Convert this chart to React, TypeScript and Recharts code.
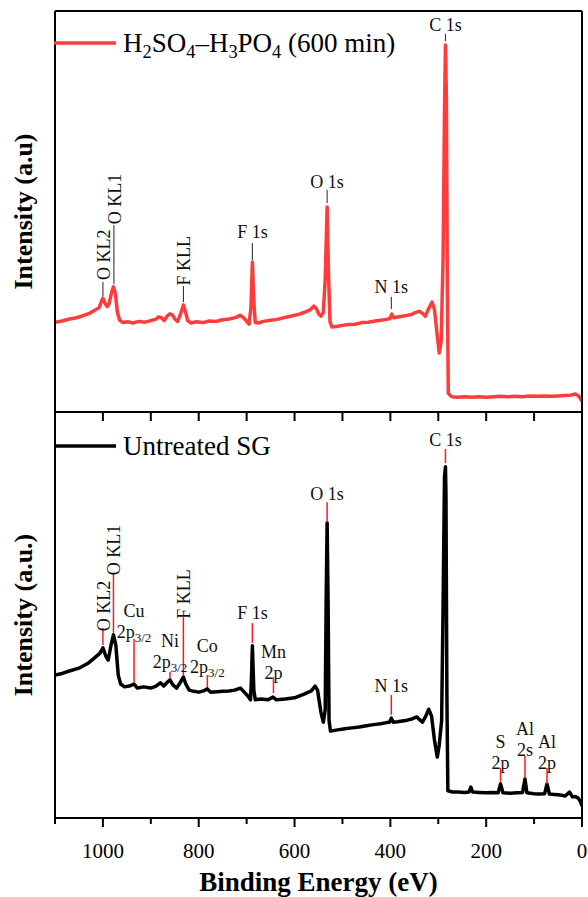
import React from 'react';
import { LineChart, Line, XAxis, YAxis, ReferenceLine, ReferenceDot, Legend, Label } from 'recharts';

const FONT = "'Liberation Serif', 'Times New Roman', serif";
const RED = '#ff3b3b';
const AXIS = { stroke: '#000', strokeWidth: 2 };

// ---- H2SO4–H3PO4 (600 min) survey: binding energy (eV) and intensity (a.u.)
const treatedEnergy = [
  1100, 1085, 1070, 1055, 1040, 1028, 1018, 1008, 1003, 1000,
  996, 991, 987, 982, 978, 974, 970, 965, 958, 948,
  938, 925, 912, 900, 890, 884, 878, 872, 866, 860,
  855, 850, 844, 838, 832, 828, 823, 816, 805, 792,
  778, 764, 750, 736, 722, 714, 708, 701, 695, 691,
  688, 685, 682, 676, 665, 650, 636, 620, 604, 590,
  576, 566, 560, 555, 549, 545, 540, 536, 532, 529,
  526, 522, 512, 500, 488, 474, 460, 446, 432, 420,
  408, 401, 397, 393, 385, 375, 365, 356, 348, 340,
  333, 327, 320, 313, 308, 303, 298, 294, 290, 287,
  285, 283, 281, 279, 272, 260, 245, 230, 215, 200,
  185, 170, 155, 140, 125, 110, 95, 80, 65, 50,
  36, 24, 14, 7, 3, 0,
];
const treatedIntensity = [
  22.4, 22.7, 23.2, 23.5, 24.1, 24.6, 25.3, 26.0, 27.6, 28.4,
  27.2, 26.3, 27.0, 29.8, 31.2, 29.6, 25.0, 22.9, 22.3, 22.5,
  22.2, 22.6, 22.4, 22.8, 23.1, 23.7, 23.5, 22.8, 23.9, 24.5,
  24.2, 23.2, 22.6, 24.4, 26.7, 25.2, 22.8, 22.2, 22.5, 22.3,
  22.7, 22.6, 23.0, 23.2, 23.6, 24.1, 23.7, 22.8, 21.9, 26.0,
  37.4, 27.5, 22.3, 22.2, 22.6, 22.9, 23.1, 23.6, 24.0, 24.4,
  25.0, 25.6, 26.4, 25.9, 24.4, 23.9, 24.8, 33.0, 51.1, 34.0,
  22.6, 21.2, 21.3, 21.6, 21.8, 21.9, 22.3, 22.4, 22.7, 22.9,
  23.1, 23.3, 24.4, 23.5, 23.7, 23.9, 24.1, 24.3, 24.8, 25.1,
  24.6, 23.9, 25.8, 27.4, 25.6, 20.0, 14.7, 17.5, 38.0, 75.0,
  91.5, 78.0, 30.0, 4.6, 3.8, 3.7, 3.8, 3.7, 3.8, 3.7,
  3.8, 3.9, 3.8, 3.9, 3.8, 4.0, 3.9, 4.0, 3.9, 4.0,
  4.1, 4.2, 4.5, 4.0, 3.3, 2.7,
];

// ---- Untreated SG survey
const untreatedEnergy = [
  1100, 1085, 1070, 1050, 1030, 1015, 1006, 1000, 994, 989,
  983, 978, 973, 968, 963, 955, 945, 935, 928, 915,
  900, 890, 880, 873, 865, 860, 854, 846, 838, 832,
  827, 820, 810, 800, 790, 782, 775, 762, 750, 737,
  725, 713, 705, 697, 692, 690, 688, 685, 682, 670,
  655, 645, 638, 620, 600, 580, 565, 557, 552, 545,
  540, 536, 534, 532, 530, 528, 525, 510, 495, 480,
  465, 450, 435, 420, 408, 402, 398, 394, 385, 375,
  365, 355, 345, 333, 326, 320, 314, 308, 302, 298,
  293, 290, 287, 285, 284, 282, 280, 270, 258, 245,
  236, 232, 228, 215, 200, 188, 175, 170, 165, 150,
  135, 124, 119, 115, 100, 90, 78, 73, 68, 58,
  50, 42, 35, 26, 20, 14, 8, 4, 0,
];
const untreatedIntensity = [
  35.2, 35.6, 36.2, 36.9, 38.2, 39.7, 40.6, 41.9, 39.9, 38.9,
  42.6, 45.1, 42.6, 35.2, 33.0, 32.3, 32.5, 33.0, 32.0, 32.3,
  32.0, 32.4, 33.3, 32.5, 33.5, 34.0, 32.8, 32.0, 33.5, 34.7,
  33.0, 31.5, 31.2, 31.0, 31.3, 31.8, 31.0, 31.1, 31.2, 31.3,
  31.5, 32.0, 31.0, 30.0, 29.1, 34.0, 42.4, 31.5, 29.1, 29.3,
  29.1, 29.8, 29.1, 29.3, 29.6, 30.5, 31.3, 32.5, 31.5, 26.1,
  23.6, 26.6, 53.7, 72.7, 53.7, 24.1, 21.4, 21.7, 22.0, 22.2,
  22.4, 22.7, 23.0, 23.2, 23.5, 23.6, 24.6, 23.6, 23.7, 23.9,
  24.1, 24.4, 24.9, 23.6, 25.1, 26.8, 25.1, 19.2, 15.0, 18.0,
  24.0, 52.0, 84.0, 86.5, 80.0, 30.0, 6.7, 6.4, 6.4, 6.3,
  6.4, 7.6, 6.4, 6.3, 6.2, 6.3, 6.2, 8.4, 6.2, 6.1,
  6.2, 6.3, 9.6, 6.2, 6.0, 5.9, 6.0, 8.4, 5.9, 5.8,
  5.7, 5.6, 5.4, 6.4, 5.2, 5.3, 4.9, 4.2, 3.0,
];

// ---- axis ticks
const xTicks = [1100, 1000, 900, 800, 700, 600, 500, 400, 300, 200, 100, 0];
const xInnerTicks = [1000, 900, 800, 700, 600, 500, 400, 300, 200, 100];
const Y_TOP = 100;

// ---- peak annotations: energy, connector from/to and text position (intensity units)
type Peak = { text: string; line2?: string; sub?: string; e: number; from: number; to: number; at: number; vertical?: boolean };

const treatedPeaks: Peak[] = [
  { text: 'O KL2', e: 1000, from: 28.9, to: 32.4, at: 39.2, vertical: true },
  { text: 'O KL1', e: 977, from: 31.9, to: 46.6, at: 53.1, vertical: true },
  { text: 'F KLL', e: 832, from: 27.4, to: 31.4, at: 37.7, vertical: true },
  { text: 'F 1s', e: 688, from: 37.9, to: 42.1, at: 44.9 },
  { text: 'O 1s', e: 532, from: 52.1, to: 55.4, at: 57.4 },
  { text: 'N 1s', e: 398, from: 25.7, to: 28.7, at: 31.2 },
  { text: 'C 1s', e: 285, from: 92.5, to: 94.3, at: 96.5 },
];

const untreatedPeaks: Peak[] = [
  { text: 'O KL2', e: 1000, from: 42.6, to: 46.8, at: 52.2, vertical: true },
  { text: 'O KL1', e: 978, from: 45.6, to: 60.3, at: 66.0, vertical: true },
  { text: 'Cu', line2: '2p', sub: '3/2', e: 935, from: 33.3, to: 44.1, at: 51.0 },
  { text: 'Ni', line2: '2p', sub: '3/2', e: 860, from: 34.5, to: 36.0, at: 43.6 },
  { text: 'F KLL', e: 832, from: 35.2, to: 49.5, at: 55.2, vertical: true },
  { text: 'Co', line2: '2p', sub: '3/2', e: 782, from: 32.3, to: 35.2, at: 42.4 },
  { text: 'F 1s', e: 688, from: 43.1, to: 48.0, at: 50.5 },
  { text: 'Mn', line2: '2p', e: 644, from: 30.8, to: 34.7, at: 40.9 },
  { text: 'O 1s', e: 532, from: 72.9, to: 77.8, at: 79.8 },
  { text: 'N 1s', e: 398, from: 25.4, to: 30.3, at: 32.5 },
  { text: 'C 1s', e: 285, from: 87.4, to: 90.9, at: 93.1 },
  { text: 'S', line2: '2p', e: 170, from: 8.9, to: 12.3, at: 18.8 },
  { text: 'Al', line2: '2s', e: 119, from: 9.9, to: 15.3, at: 22.0 },
  { text: 'Al', line2: '2p', e: 73, from: 8.4, to: 12.3, at: 18.8 },
];

const treatedData = treatedEnergy.map((e, i) => ({ e, v: treatedIntensity[i] }));
const untreatedData = untreatedEnergy.map((e, i) => ({ e, v: untreatedIntensity[i] }));

const PeakText = ({ cx, cy, peak }: { cx: number; cy: number; peak: Peak }) => {
  const common = { fontFamily: FONT, fontSize: 18, fill: '#111', textAnchor: 'middle' as const, dominantBaseline: 'central' as const };
  if (peak.vertical) {
    return (
      <text x={cx + 1} y={cy} transform={`rotate(-90 ${cx + 1} ${cy})`} {...common}>
        {peak.text}
      </text>
    );
  }
  return (
    <g>
      <text x={cx} y={cy} {...common}>{peak.text}</text>
      {peak.line2 && (
        <text x={cx} y={cy + 21} {...common}>
          {peak.line2}
          {peak.sub && <tspan fontSize={13} dy={5}>{peak.sub}</tspan>}
        </text>
      )}
    </g>
  );
};

const renderPeaks = (peaks: Peak[], lineColor: string, lineWidth: number) =>
  peaks.flatMap((p, i) => [
    <ReferenceLine
      key={`l${i}`}
      segment={[{ x: p.e, y: p.from }, { x: p.e, y: p.to }]}
      stroke={lineColor}
      strokeWidth={lineWidth}
      ifOverflow="visible"
    />,
    <ReferenceDot
      key={`t${i}`}
      x={p.e}
      y={p.at}
      r={0}
      ifOverflow="visible"
      shape={(props: any) => <PeakText cx={props.cx} cy={props.cy} peak={p} />}
    />,
  ]);

const YTitle = (text: string) => (props: any) => {
  const vb = props.viewBox || { x: 0, y: 0, width: 55, height: 400 };
  const cx = vb.x + 32;
  const cy = vb.y + vb.height / 2;
  return (
    <text x={cx} y={cy} transform={`rotate(-90 ${cx} ${cy})`} textAnchor="middle" fontFamily={FONT} fontSize={26} fontWeight="bold" fill="#000">
      {text}
    </text>
  );
};

const XTitle = (props: any) => {
  const vb = props.viewBox || { x: 55, y: 406, width: 527, height: 79 };
  return (
    <text x={vb.x + vb.width / 2} y={vb.y + 64} textAnchor="middle" dominantBaseline="central" fontFamily={FONT} fontSize={27} fontWeight="bold" fill="#000">
      Binding Energy (eV)
    </text>
  );
};

const BottomTick = (props: any) => {
  const { x, y, payload } = props;
  const v = payload.value;
  const major = v % 200 === 0;
  return (
    <g>
      <line x1={x} x2={x} y1={y} y2={y + (major ? 9 : 6)} stroke="#000" strokeWidth={2} />
      {major && (
        <text x={x} y={y + 33} textAnchor="middle" dominantBaseline="central" fontFamily={FONT} fontSize={21} fill="#000">
          {v}
        </text>
      )}
    </g>
  );
};

// tick mark hanging down from the top frame of the lower panel
const InnerTickMark = (props: any) => (
  <path d={`M${props.cx},${props.cy}v9`} stroke="#000" strokeWidth={2} fill="none" />
);

const subStyle: React.CSSProperties = { fontSize: '0.68em', lineHeight: 0, verticalAlign: '-0.3em' };

const LegendBox = ({ color, children }: { color: string; children: React.ReactNode }) => (
  <div style={{ display: 'flex', alignItems: 'center', height: 32, fontFamily: FONT, fontSize: 27, color: '#000', whiteSpace: 'nowrap', lineHeight: '32px' }}>
    <svg width={62} height={6} style={{ marginRight: 7, display: 'block' }}>
      <line x1={0} x2={62} y1={3} y2={3} stroke={color} strokeWidth={3.5} />
    </svg>
    <span>{children}</span>
  </div>
);

export default function App() {
  return (
    <div style={{ position: 'absolute', left: 0, top: 0, width: 588, height: 897, background: '#fff' }}>
      <div style={{ position: 'absolute', left: 0, top: 0 }}>
        <LineChart width={588} height={413} data={treatedData} margin={{ top: 10, right: 5, bottom: 0, left: 0 }}>
          <XAxis dataKey="e" type="number" domain={[0, 1100]} reversed tick={false} tickLine={false} axisLine={AXIS} height={1} allowDataOverflow />
          <XAxis xAxisId="top" orientation="top" type="number" domain={[0, 1100]} reversed tick={false} tickLine={false} axisLine={AXIS} height={1} />
          <YAxis type="number" domain={[0, 100]} tick={false} tickLine={false} axisLine={AXIS} width={55} allowDataOverflow>
            <Label content={YTitle('Intensity (a.u)')} />
          </YAxis>
          <YAxis yAxisId="right" orientation="right" type="number" domain={[0, 100]} tick={false} tickLine={false} axisLine={AXIS} width={1} />
          <Line dataKey="v" stroke={RED} strokeWidth={3.5} dot={false} isAnimationActive={false} strokeLinejoin="round" />
          {renderPeaks(treatedPeaks, '#222', 1)}
          <Legend
            layout="vertical"
            align="center"
            verticalAlign="middle"
            wrapperStyle={{ left: 54, top: 27, width: 460 }}
            content={() => (
              <LegendBox color={RED}>
                H<sub style={subStyle}>2</sub>SO<sub style={subStyle}>4</sub>–H<sub style={subStyle}>3</sub>PO<sub style={subStyle}>4</sub> (600 min)
              </LegendBox>
            )}
          />
        </LineChart>
      </div>
      <div style={{ position: 'absolute', left: 0, top: 411 }}>
        <LineChart width={588} height={486} data={untreatedData} margin={{ top: 0, right: 5, bottom: 0, left: 0 }}>
          <XAxis dataKey="e" type="number" domain={[0, 1100]} reversed ticks={xTicks} interval={0} tickSize={0} tickMargin={0} tickLine={false} tick={BottomTick} axisLine={AXIS} height={79} allowDataOverflow>
            <Label content={XTitle} />
          </XAxis>
          <XAxis xAxisId="top" orientation="top" type="number" domain={[0, 1100]} reversed tick={false} tickLine={false} axisLine={AXIS} height={1} />
          <YAxis type="number" domain={[0, 100]} tick={false} tickLine={false} axisLine={AXIS} width={55} allowDataOverflow>
            <Label content={YTitle('Intensity (a.u.)')} />
          </YAxis>
          <YAxis yAxisId="right" orientation="right" type="number" domain={[0, 100]} tick={false} tickLine={false} axisLine={AXIS} width={1} />
          <Line dataKey="v" stroke="#000" strokeWidth={3.5} dot={false} isAnimationActive={false} strokeLinejoin="round" />
          {renderPeaks(untreatedPeaks, '#ff1a1a', 1.5)}
          {xInnerTicks.map((t) => (
            <ReferenceDot key={`it${t}`} x={t} y={Y_TOP} r={0} ifOverflow="visible" shape={InnerTickMark} />
          ))}
          <Legend
            layout="vertical"
            align="center"
            verticalAlign="middle"
            wrapperStyle={{ left: 54, top: 19, width: 300 }}
            content={() => <LegendBox color="#000">Untreated SG</LegendBox>}
          />
        </LineChart>
      </div>
    </div>
  );
}
